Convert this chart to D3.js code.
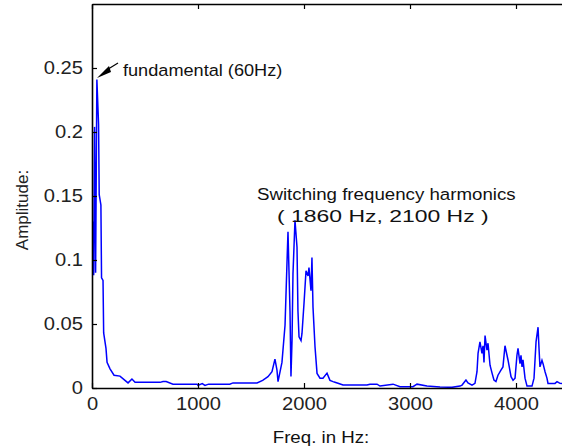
<!DOCTYPE html>
<html>
<head>
<meta charset="utf-8">
<script src="https://cdn.jsdelivr.net/npm/d3@7"></script>
<style>
  body { margin: 0; background: #fff; }
  svg { display: block; font-family: "Liberation Sans", Arial, sans-serif; }
</style>
</head>
<body>
<svg id="chart" width="562" height="447"></svg>
<script>
// spectrum: [frequency Hz, amplitude]
const freqs = [0, 8, 16, 24, 34, 46, 62, 68, 84, 90, 104, 110, 132, 142, 170, 208, 264, 311, 340, 377,
  406, 642, 670, 700, 764, 991, 1000, 1040, 1066, 1100, 1300, 1330, 1557, 1610, 1660, 1698, 1726, 1745,
  1755, 1792, 1821, 1840, 1849, 1868, 1877, 1887, 1896, 1915, 1934, 1943, 1953, 1972, 1981, 2000, 2019,
  2038, 2047, 2066, 2075, 2085, 2104, 2123, 2151, 2179, 2217, 2245, 2274, 2292, 2321, 2368, 2594, 2623,
  2689, 2717, 2840, 2906, 3028, 3066, 3160, 3283, 3396, 3472, 3491, 3528, 3547, 3585, 3613, 3632, 3642,
  3660, 3679, 3689, 3698, 3708, 3726, 3736, 3755, 3774, 3792, 3811, 3830, 3858, 3877, 3896, 3915, 3925,
  3953, 3972, 3991, 4009, 4019, 4038, 4047, 4057, 4066, 4085, 4104, 4151, 4170, 4189, 4208, 4217, 4226,
  4245, 4255, 4274, 4292, 4302, 4368, 4387, 4415, 4500]
const amps = [0.084, 0.13, 0.088, 0.204, 0.09, 0.241, 0.206, 0.151, 0.143, 0.086, 0.084, 0.043, 0.031, 0.020,
  0.015, 0.010, 0.0093, 0.006, 0.004, 0.007, 0.0045, 0.0044, 0.005, 0.005, 0.003, 0.003, 0.002, 0.0035,
  0.002, 0.003, 0.003, 0.004, 0.004, 0.006, 0.0088, 0.0127, 0.0225, 0.014, 0.005, 0.020, 0.049, 0.099,
  0.122, 0.060, 0.009, 0.037, 0.089, 0.131, 0.110, 0.060, 0.040, 0.037, 0.0426, 0.066, 0.0915, 0.0876,
  0.094, 0.076, 0.102, 0.063, 0.032, 0.0114, 0.0077, 0.0077, 0.0116, 0.006, 0.005, 0.0045, 0.0037, 0.0023,
  0.0023, 0.003, 0.003, 0.0015, 0.003, 0.001, 0.001, 0.003, 0.0015, 0.0008, 0.0005, 0.0015, 0.0023, 0.0062,
  0.004, 0.0023, 0.0036, 0.0127, 0.027, 0.036, 0.027, 0.033, 0.020, 0.041, 0.0295, 0.035, 0.0178, 0.0116,
  0.0062, 0.005, 0.010, 0.014, 0.0165, 0.033, 0.0256, 0.0217, 0.0088, 0.006, 0.0077, 0.0256, 0.031, 0.019,
  0.0256, 0.0165, 0.022, 0.0077, 0.0015, 0.0015, 0.0077, 0.036, 0.0475, 0.031, 0.0165, 0.0217, 0.019,
  0.0127, 0.0077, 0.0036, 0.0036, 0.005, 0.0036, 0.003]

const xTicks = [0, 1000, 2000, 3000, 4000]
const yTicks = [0, 0.05, 0.1, 0.15, 0.2, 0.25]

const svg = d3.select('#chart')

const plotLeft = 92
const plotRight = 569
const plotTop = 4
const plotBottom = 388

const x = d3.scaleLinear().domain([0, 4500]).range([plotLeft, plotRight])
const y = d3.scaleLinear().domain([0, 0.3]).range([plotBottom, plotTop])

// the old screen font is a bit wider than Arial
const stretch = 1.12

svg.append('rect')
    .attr('width', 562)
    .attr('height', 447)
    .attr('fill', '#fff')

svg.append('defs').append('clipPath')
    .attr('id', 'plot-clip')
  .append('rect')
    .attr('x', plotLeft)
    .attr('y', plotTop)
    .attr('width', plotRight - plotLeft)
    .attr('height', plotBottom - plotTop)

// curve
const line = d3.line()
    .x(d => x(d[0]))
    .y(d => y(d[1]))

svg.append('path')
    .datum(d3.zip(freqs, amps))
    .attr('clip-path', 'url(#plot-clip)')
    .attr('fill', 'none')
    .attr('stroke', '#0000ff')
    .attr('stroke-width', 1.5)
    .attr('stroke-linejoin', 'miter')
    .attr('d', line)

// axes, ticks pointing inward like matlab
function styleAxis(g) {
  g.selectAll('.domain').attr('stroke', '#000').attr('stroke-width', 1.6)
  g.selectAll('.tick line').attr('stroke', '#000').attr('stroke-width', 1.2)
  g.selectAll('text')
      .attr('fill', '#222')
      .style('font-size', '18px')
}

const xAxis = svg.append('g')
    .attr('transform', `translate(0,${plotBottom})`)
    .call(d3.axisBottom(x).tickValues(xTicks).tickFormat(d3.format('d'))
      .tickSizeInner(-5).tickSizeOuter(0).tickPadding(9))
    .call(styleAxis)

xAxis.selectAll('text')
    .attr('transform', `scale(${stretch},1)`)

const yAxis = svg.append('g')
    .attr('transform', `translate(${plotLeft},0)`)
    .call(d3.axisLeft(y).tickValues(yTicks).tickFormat(d => d === 0 ? '0' : String(+d.toFixed(2)))
      .tickSizeInner(-5).tickSizeOuter(0).tickPadding(8))
    .call(styleAxis)

yAxis.selectAll('text')
    .attr('transform', `scale(${stretch},1)`)

svg.append('g')
    .attr('transform', `translate(0,${plotTop})`)
    .call(d3.axisTop(x).tickValues(xTicks).tickFormat('')
      .tickSizeInner(-5).tickSizeOuter(0))
    .call(styleAxis)

svg.append('g')
    .attr('transform', `translate(${plotRight},0)`)
    .call(d3.axisRight(y).tickValues(yTicks).tickFormat('')
      .tickSizeInner(-5).tickSizeOuter(0))
    .call(styleAxis)

function label(px, py, str, size, sx = 1.1) {
  return svg.append('text')
      .attr('transform', `translate(${px},${py}) scale(${sx},1)`)
      .attr('fill', '#111')
      .style('font-size', size + 'px')
      .style('white-space', 'pre')
      .text(str)
}

// axis titles
label(321, 443, 'Freq. in Hz:', 17).attr('text-anchor', 'middle')

svg.append('text')
    .attr('transform', 'translate(28,210) rotate(-90)')
    .attr('text-anchor', 'middle')
    .attr('fill', '#222')
    .style('font-size', '17px')
    .text('Amplitude:')

// annotations
label(123, 76, 'fundamental (60Hz)', 16.5)

svg.append('line')
    .attr('x1', 118)
    .attr('y1', 63)
    .attr('x2', 105)
    .attr('y2', 71)
    .attr('stroke', '#000')
    .attr('stroke-width', 1.2)

svg.append('path')
    .attr('d', 'M97,78 L109,66 L111,72 Z')
    .attr('fill', '#000')

label(257, 200, 'Switching frequency harmonics', 17)

label(277, 222, '( 1860 Hz, 2100 Hz )', 17, 1.35)
</script>
</body>
</html>
